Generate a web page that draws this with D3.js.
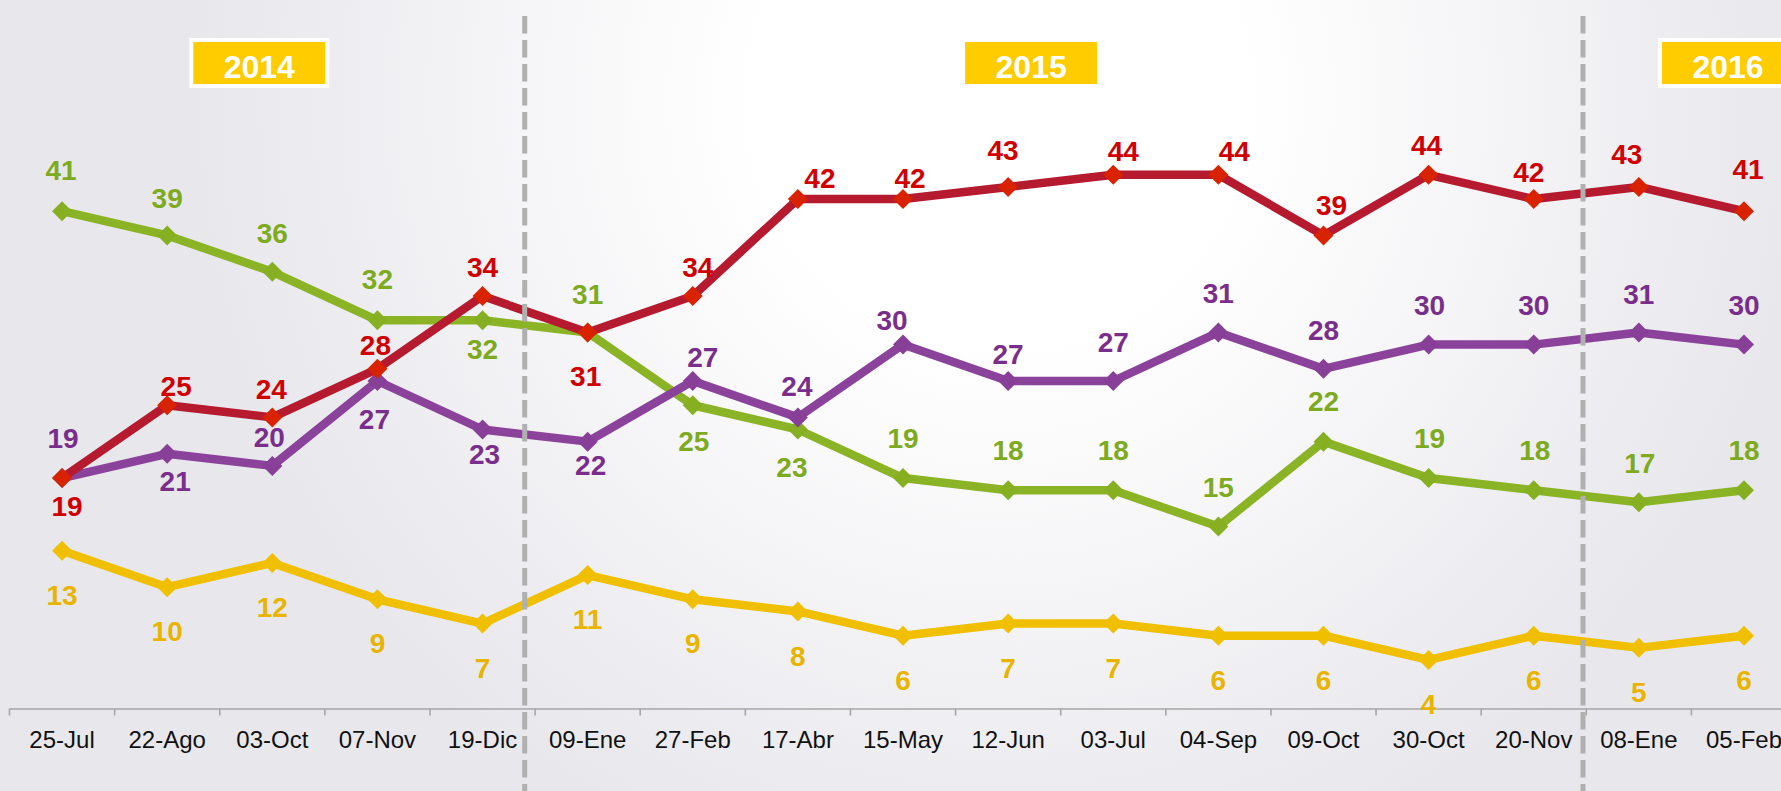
<!DOCTYPE html>
<html>
<head>
<meta charset="utf-8">
<script src="https://cdn.jsdelivr.net/npm/d3@7"></script>
<style>
  html, body { margin: 0; padding: 0; background: #e8e8ec; }
  svg { display: block; }
  text { font-family: "Liberation Sans", Arial, sans-serif; }
</style>
</head>
<body>
<div class="chart-container"></div>
<script>
// Data
const dates = ["25-Jul", "22-Ago", "03-Oct", "07-Nov", "19-Dic", "09-Ene", "27-Feb", "17-Abr",
  "15-May", "12-Jun", "03-Jul", "04-Sep", "09-Oct", "30-Oct", "20-Nov", "08-Ene", "05-Feb"];
const redValues    = [19, 25, 24, 28, 34, 31, 34, 42, 42, 43, 44, 44, 39, 44, 42, 43, 41];
const greenValues  = [41, 39, 36, 32, 32, 31, 25, 23, 19, 18, 18, 15, 22, 19, 18, 17, 18];
const purpleValues = [19, 21, 20, 27, 23, 22, 27, 24, 30, 27, 27, 31, 28, 30, 30, 31, 30];
const yellowValues = [13, 10, 12, 9, 7, 11, 9, 8, 6, 7, 7, 6, 6, 4, 6, 5, 6];
const years = ["2014", "2015", "2016"];
const yearStarts = ["09-Ene", "08-Ene"];   // first poll of a new year

// Label nudges (dx, dy from the marker), hand placed like in the original
const redShift = [[5,28],[9,-19],[-1,-28],[-2,-24],[0,-29],[-2,43],[5,-29],[22,-21],[7,-21],
  [-5,-37],[10,-24],[16,-24],[8,-31],[-2,-30],[-5,-27],[-12,-33],[4,-42]];
const greenShift = [[-1,-41],[0,-38],[0,-39],[0,-41],[0,29],[0,-39],[1,36],[-6,37],[0,-40],
  [0,-40],[0,-40],[0,-40],[0,-41],[1,-40],[1,-40],[1,-39],[0,-40]];
const purpleShift = [[1,-40],[8,27],[-3,-29],[-3,38],[2,24],[3,23],[10,-24],[-1,-31],[-11,-25],
  [0,-27],[0,-39],[0,-40],[0,-39],[1,-40],[0,-40],[0,-39],[0,-40]];
const yellowShift = dates.map(() => [0, 44]);

const width = 1781, height = 791;

const svg = d3.select(".chart-container")
  .append("svg")
    .attr("width", width)
    .attr("height", height)
    .attr("viewBox", `0 0 ${width} ${height}`);

// background spotlight
const defs = svg.append("defs");
const grad = defs.append("radialGradient")
    .attr("id", "bg")
    .attr("gradientUnits", "userSpaceOnUse")
    .attr("cx", 1000).attr("cy", 100).attr("r", 820);
[[0, "#ffffff"], [0.3, "#ffffff"], [0.6, "#f5f5f7"], [0.85, "#ececf0"], [1, "#e8e8ec"]]
  .forEach(([o, c]) => grad.append("stop").attr("offset", o).attr("stop-color", c));
svg.append("rect").attr("width", width).attr("height", height).attr("fill", "url(#bg)");

// scales
const xScale = d3.scaleBand()
  .domain(dates)
  .range([9.5, 9.5 + 17 * 105.12]);
const cx = d => xScale(d) + xScale.bandwidth() / 2;

const yScale = d3.scaleLinear()
  .domain([0, 50])
  .range([708.5, 102]);

// x axis, Excel style: ticks between categories
const axisY = yScale(0);
const axis = svg.append("g")
    .attr("transform", `translate(0,${axisY})`)
    .call(d3.axisBottom(xScale).tickSize(0).tickPadding(22.5));
axis.select(".domain").attr("stroke", "#a6a6a6").attr("stroke-width", 1.6);
axis.selectAll("text")
    .attr("font-size", 24)
    .attr("font-family", "'Liberation Sans', Arial, sans-serif")
    .attr("fill", "#111");
axis.selectAll(".sep")
  .data(dates)
  .join("line")
    .attr("class", "sep")
    .attr("x1", d => xScale(d)).attr("x2", d => xScale(d))
    .attr("y1", 0).attr("y2", 7)
    .attr("stroke", "#a6a6a6")
    .attr("stroke-width", 1.6);

// series
const diamond = {
  draw(ctx, size) {
    const r = Math.sqrt(size / 2);
    ctx.moveTo(0, -r); ctx.lineTo(r, 0); ctx.lineTo(0, r); ctx.lineTo(-r, 0); ctx.closePath();
  }
};

const series = [
  { values: yellowValues, shift: yellowShift, line: "#efbf00", marker: "#efbf00", label: "#e9b400" },
  { values: greenValues,  shift: greenShift,  line: "#8ab325", marker: "#86b022", label: "#7eaa1f" },
  { values: purpleValues, shift: purpleShift, line: "#8b429b", marker: "#873f97", label: "#7a2e8c" },
  { values: redValues,    shift: redShift,    line: "#b51a2e", marker: "#d92300", label: "#d00000" }
];

const line = d3.line()
  .x((d, i) => cx(dates[i]))
  .y(d => yScale(d));

const seriesG = svg.append("g");
series.forEach(s => {
  const g = seriesG.append("g");
  g.append("path")
      .datum(s.values)
      .attr("d", line)
      .attr("fill", "none")
      .attr("stroke", s.line)
      .attr("stroke-width", 8.5)
      .attr("stroke-linejoin", "round");
  g.selectAll(".mark")
    .data(s.values)
    .join("path")
      .attr("class", "mark")
      .attr("transform", (d, i) => `translate(${cx(dates[i])},${yScale(d)})`)
      .attr("d", d3.symbol().type(diamond).size(200))
      .attr("fill", s.marker);
});

// year separators (drawn over the lines)
const sepShift = [-10.4, -3.3];
svg.selectAll(".year-sep")
  .data(yearStarts)
  .join("line")
    .attr("class", "year-sep")
    .attr("x1", (d, i) => xScale(d) + sepShift[i])
    .attr("x2", (d, i) => xScale(d) + sepShift[i])
    .attr("y1", 16).attr("y2", height)
    .attr("stroke", "#b0b0b0")
    .attr("stroke-width", 5)
    .attr("stroke-dasharray", "17.5 6.5");

// value labels
series.forEach(s => {
  svg.append("g").selectAll("text")
    .data(s.values)
    .join("text")
      .attr("x", (d, i) => cx(dates[i]) + s.shift[i][0])
      .attr("y", (d, i) => yScale(d) + s.shift[i][1])
      .attr("dy", "0.36em")
      .attr("text-anchor", "middle")
      .attr("font-size", 28)
      .attr("font-weight", "bold")
      .attr("fill", s.label)
      .text(d => d);
});

// year boxes
const yearCenters = [cx("03-Oct") - 13, cx("12-Jun") + 23, cx("05-Feb") - 16];
const boxW = 132, boxH = 42, boxTop = 42;
const yearG = svg.selectAll(".year")
  .data(years)
  .join("g")
    .attr("class", "year")
    .attr("transform", (d, i) => `translate(${yearCenters[i]},0)`);
yearG.append("rect")
    .attr("x", -boxW / 2 - 4).attr("y", boxTop - 4)
    .attr("width", boxW + 8).attr("height", boxH + 8)
    .attr("fill", "#ffffff");
yearG.append("rect")
    .attr("x", -boxW / 2).attr("y", boxTop)
    .attr("width", boxW).attr("height", boxH)
    .attr("fill", "#ffcc00");
yearG.append("text")
    .attr("x", 0).attr("y", 78)
    .attr("text-anchor", "middle")
    .attr("font-size", 32)
    .attr("font-weight", "bold")
    .attr("fill", "#ffffff")
    .text(d => d);
</script>
</body>
</html>
